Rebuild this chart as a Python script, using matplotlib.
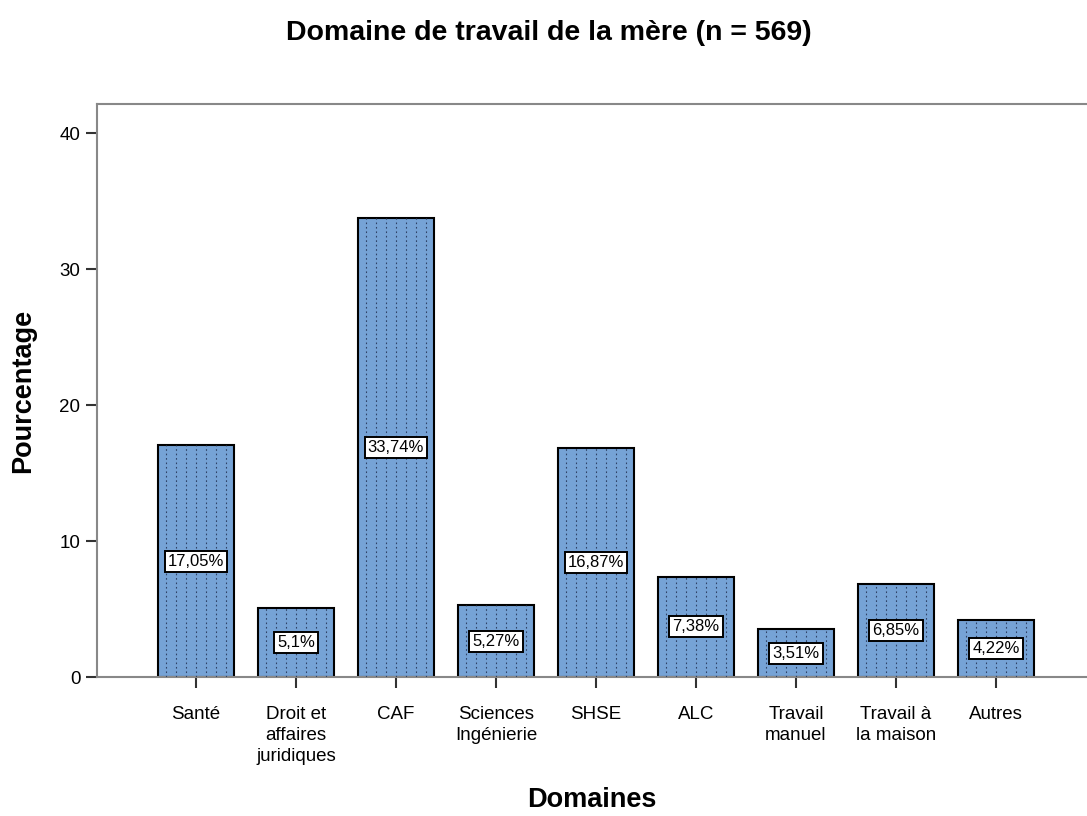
import numpy as np
import matplotlib.pyplot as plt

# data
categories = ["Santé", "Droit et\naffaires\njuridiques", "CAF", "Sciences\nIngénierie", "SHSE",
              "ALC", "Travail\nmanuel", "Travail à\nla maison", "Autres"]
values = [17.05, 5.1, 33.74, 5.27, 16.87, 7.38, 3.51, 6.85, 4.22]
value_labels = ["17,05%", "5,1%", "33,74%", "5,27%", "16,87%", "7,38%", "3,51%", "6,85%", "4,22%"]

plt.rcParams['font.family'] = ['Liberation Sans', 'DejaVu Sans']

fig = plt.figure(figsize=(10.87, 8.16), dpi=100)
ax = fig.add_axes([0.0892, 0.1703, 0.9108, 0.7022])

x = np.arange(len(categories))
width = 0.76
ax.bar(x, values, width=width, color='#76a3d6', edgecolor='black', linewidth=1.5, zorder=2)

# dotted vertical pattern inside bars
for xi, v in zip(x, values):
    for off in np.arange(-0.3, 0.31, 0.1):
        ax.vlines(xi + off, 0, v, colors='#2f4266', linestyles=(0, (1.5, 2.5)), linewidth=0.8, zorder=3)

# value labels
for xi, v, lab in zip(x, values, value_labels):
    ax.text(xi, v / 2, lab, ha='center', va='center', fontsize=12, zorder=4,
            bbox=dict(boxstyle='square,pad=0.18', facecolor='white', edgecolor='black', linewidth=1.4))

ax.set_xlim(-0.99, 8.91)
ax.set_ylim(0, 42.13)
ax.set_yticks([0, 10, 20, 30, 40])
ax.set_xticks(x)
ax.set_xticklabels(categories, fontsize=13.5, linespacing=1.3, va='top')
ax.tick_params(axis='y', labelsize=13.5, length=8, width=1.5, color='#333333', direction='out', pad=4)
ax.tick_params(axis='x', length=8, width=1.5, color='#333333', direction='out', pad=13)

for side in ['left', 'top', 'bottom']:
    ax.spines[side].set_color('#888888')
    ax.spines[side].set_linewidth(1.5)
ax.spines['right'].set_visible(False)

ax.set_ylabel("Pourcentage", fontsize=19.5, fontweight='bold', labelpad=17)
ax.set_xlabel("Domaines", fontsize=19.5, fontweight='bold', labelpad=16)
fig.suptitle("Domaine de travail de la mère (n = 569)", fontsize=20.5, fontweight='bold', x=0.505, y=0.976)

fig.savefig("out.png", dpi=100)
